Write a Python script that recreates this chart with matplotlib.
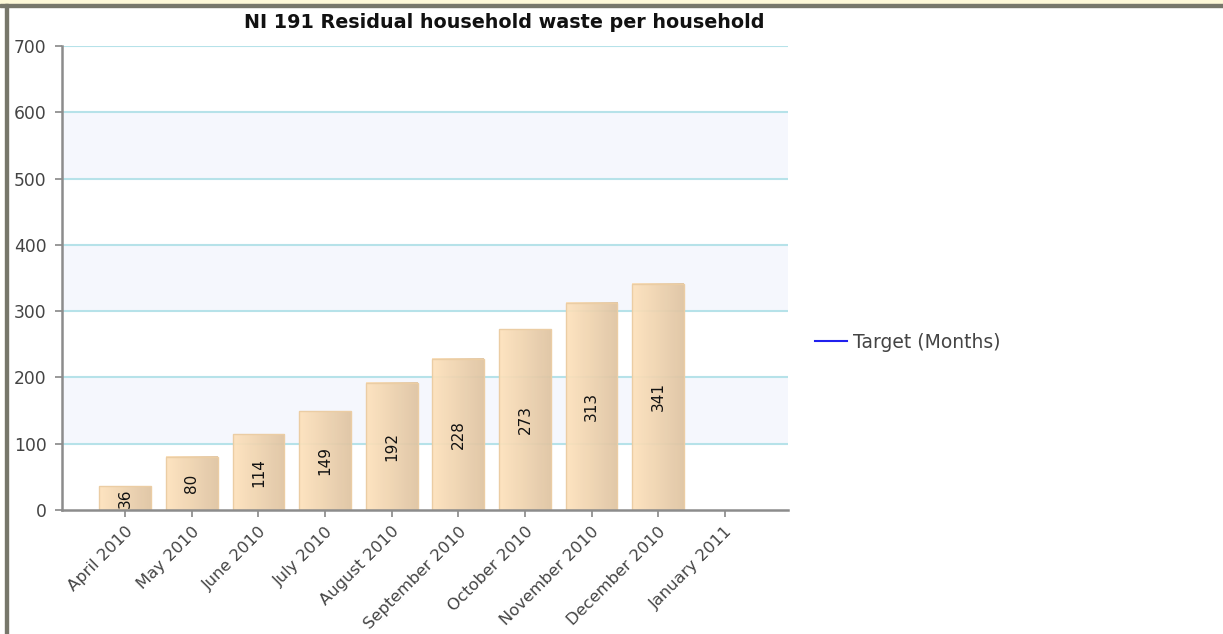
import numpy as np
import matplotlib
matplotlib.use("Agg")
import matplotlib.pyplot as plt
from matplotlib.colors import LinearSegmentedColormap
from matplotlib.patches import Rectangle

# данные
months = ["April 2010", "May 2010", "June 2010", "July 2010", "August 2010",
          "September 2010", "October 2010", "November 2010", "December 2010",
          "January 2011"]
waste = [36, 80, 114, 149, 192, 228, 273, 313, 341, None]
target = [None] * len(months)
y_ticks = [0, 100, 200, 300, 400, 500, 600, 700]

title = "NI 191 Residual household waste per household"

fig = plt.figure(figsize=(12.23, 6.34), dpi=100)
ax = fig.add_axes([62 / 1223, 1 - 510 / 634, 726 / 1223, 464 / 634])

# рамка страницы
fig.patches.append(Rectangle((0, 1 - 4 / 634), 1, 4 / 634, transform=fig.transFigure,
                             color="#fdf8d8", zorder=0))
fig.patches.append(Rectangle((0, 1 - 7 / 634), 1, 3 / 634, transform=fig.transFigure,
                             color="#77776b", zorder=0))
fig.patches.append(Rectangle((5 / 1223, 0), 3 / 1223, 1 - 4 / 634, transform=fig.transFigure,
                             color="#77776b", zorder=0))

x = np.arange(len(months))

# полосы фона
for lo, hi in zip(y_ticks[1:-1:2], y_ticks[2::2]):
    ax.axhspan(lo, hi, color="#f5f7fd", zorder=0, lw=0)
for t in y_ticks[1:]:
    ax.axhline(t, color="#b6e2e9", lw=1.5, zorder=1)

# столбцы с градиентом
cmap = LinearSegmentedColormap.from_list("bar", ["#fee2bc", "#dfc4a2"])
grad = np.linspace(0, 1, 64).reshape(1, -1)
w = 0.78
for xi, v in zip(x, waste):
    if v is None:
        continue
    ax.imshow(grad, cmap=cmap, extent=[xi - w / 2, xi + w / 2, 0, v],
              aspect="auto", zorder=2, alpha=0.93, interpolation="bilinear")
    ax.add_patch(Rectangle((xi - w / 2, 0), w, v, fill=False, ec="#ebcda4", lw=1, zorder=3))
    ax.text(xi, v / 2, str(v), rotation=90, ha="center", va="center",
            fontsize=11, color="#111111", zorder=4)

ax.set_xlim(-0.95, len(months) - 0.05)
ax.set_ylim(0, 700)

# пустая линия цели
tgt = [np.nan if t is None else t for t in target]
ax.plot(x, tgt, color="#2020ee", lw=1.5, label="Target (Months)")

ax.set_xticks(x)
ax.set_xticklabels(months, rotation=45, ha="right", rotation_mode="anchor",
                   fontsize=11.8, color="#444444")
ax.set_yticks(y_ticks)
ax.set_yticklabels([str(t) for t in y_ticks], fontsize=12.3, color="#444444")
ax.tick_params(axis="both", color="#888888", length=5, width=1.2)
ax.tick_params(axis="y", pad=6)
ax.tick_params(axis="x", pad=5)

for s in ["top", "right"]:
    ax.spines[s].set_visible(False)
for s in ["left", "bottom"]:
    ax.spines[s].set_color("#8c8c8c")
    ax.spines[s].set_linewidth(1.8)
    ax.spines[s].set_zorder(5)

fig.text(504 / 1223, 1 - 22 / 634, title, ha="center", va="center",
         fontsize=13.8, fontweight="bold", color="#111111")

leg = ax.legend(loc="center left", bbox_to_anchor=(1.014, 0.362), frameon=False,
                fontsize=13.5, handlelength=1.7, handletextpad=0.3)
for t in leg.get_texts():
    t.set_color("#444444")

fig.savefig("out.png", dpi=100)
